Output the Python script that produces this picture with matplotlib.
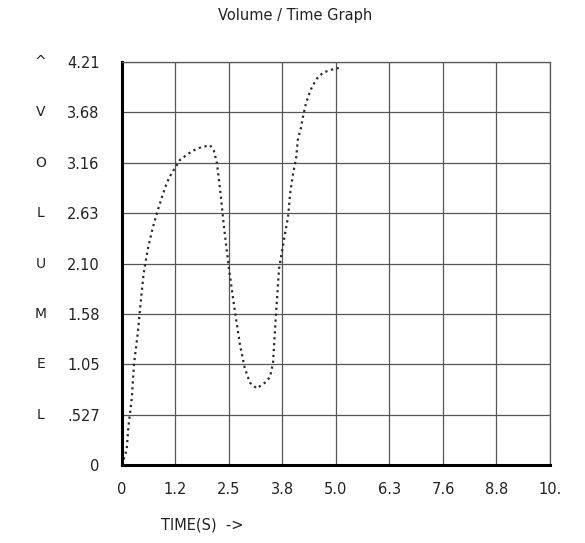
import numpy as np
import matplotlib.pyplot as plt

# curve (time in s, volume)
t = [0.0, 0.11, 0.15, 0.23, 0.28, 0.37, 0.42, 0.50, 0.60, 0.72, 0.85, 0.95, 1.05, 1.15,
     1.36, 1.64, 1.85, 2.06, 2.15, 2.22, 2.30, 2.38, 2.50, 2.64, 2.76, 2.87, 2.99, 3.15,
     3.34, 3.46, 3.53, 3.58, 3.67, 3.81, 3.88, 3.93, 4.0, 4.07, 4.11, 4.18, 4.23, 4.30,
     4.37, 4.44, 4.56, 4.70, 4.90, 5.09]
vol = [0.0, 0.16, 0.40, 0.70, 1.05, 1.38, 1.62, 1.98, 2.25, 2.48, 2.68, 2.82, 2.95, 3.04,
       3.19, 3.28, 3.32, 3.34, 3.28, 3.15, 2.85, 2.50, 2.05, 1.60, 1.25, 1.01, 0.86, 0.80,
       0.86, 0.92, 1.07, 1.45, 2.05, 2.42, 2.59, 2.84, 3.05, 3.21, 3.40, 3.52, 3.64, 3.78,
       3.87, 3.95, 4.04, 4.10, 4.13, 4.15]

xticks = [0, 1.25, 2.5, 3.75, 5.0, 6.25, 7.5, 8.75, 10]
xlabels = ["0", "1.2", "2.5", "3.8", "5.0", "6.3", "7.6", "8.8", "10."]
yticks = [0, 0.52625, 1.0525, 1.57875, 2.105, 2.63125, 3.1575, 3.68375, 4.21]
ylabels = ["0", ".527", "1.05", "1.58", "2.10", "2.63", "3.16", "3.68", "4.21"]
side_letters = ["L", "E", "M", "U", "L", "O", "V", "^"]

fig = plt.figure(figsize=(5.85, 5.43), dpi=100)
ax = fig.add_axes([0.2085, 0.1436, 0.7316, 0.7422])

ax.plot(t, vol, linestyle=':', color='#2a2a2a', linewidth=1.6)

ax.set_xlim(0, 10)
ax.set_ylim(0, 4.21)
ax.set_xticks(xticks)
ax.set_xticklabels(xlabels, fontsize=10.5, color='#222')
ax.set_yticks(yticks)
ax.set_yticklabels(ylabels, fontsize=10.5, color='#222')
ax.tick_params(length=0, pad=16)
ax.tick_params(axis='x', pad=12)
ax.grid(True, color='#555', linewidth=0.9)

for side in ['left', 'bottom']:
    ax.spines[side].set_linewidth(2.2)
for side in ['top', 'right']:
    ax.spines[side].set_linewidth(0.9)
    ax.spines[side].set_color('#555')

trans = ax.get_yaxis_transform()
for y, letter in zip(yticks[1:], side_letters):
    ax.text(-0.19, y, letter, transform=trans, fontsize=10, color='#222',
            ha='center', va='center')

fig.text(0.504, 0.972, "Volume / Time Graph", fontsize=10.5, ha='center', va='center',
         color='#222')
fig.text(0.345, 0.034, "TIME(S)  ->", fontsize=10.5, ha='center', va='center', color='#222')

fig.savefig("out.png", dpi=100)
